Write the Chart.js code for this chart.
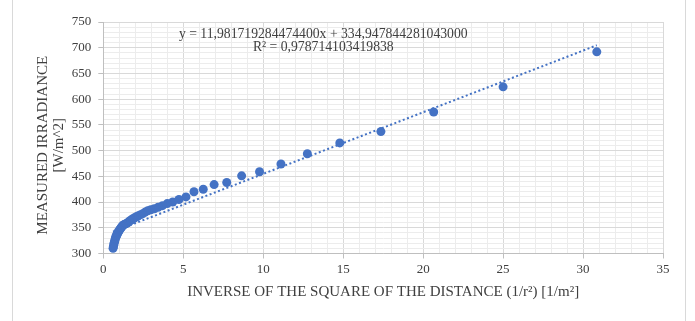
<!DOCTYPE html>
<html>
<head>
<meta charset="utf-8">
<script src="https://cdn.jsdelivr.net/npm/chart.js@4.4.1/dist/chart.umd.min.js"></script>
<style>
  html, body { margin: 0; padding: 0; background: #fff; overflow: hidden; }
  #wrap { position: relative; width: 695px; height: 321px; }
  #frame { position: absolute; left: 12px; top: -2px; width: 674px; height: 324px; border: 1px solid #d9d9d9; pointer-events: none; box-sizing: border-box; }
</style>
</head>
<body>
<div id="wrap">
  <canvas id="grafico" width="695" height="321"></canvas>
  <div id="frame"></div>
</div>
<script>
// 1/r^2 values [1/m^2]
const inversa = [30.86, 25.00, 20.66, 17.36, 14.79, 12.76, 11.11, 9.77, 8.65, 7.72,
  6.93, 6.25, 5.67, 5.17, 4.73, 4.34, 4.00, 3.70, 3.43, 3.19,
  2.97, 2.78, 2.60, 2.44, 2.30, 2.16, 2.04, 1.93, 1.83, 1.73,
  1.64, 1.56, 1.49, 1.42, 1.35, 1.29, 1.23, 1.18, 1.13, 1.09,
  1.04, 1.00, 0.96, 0.92, 0.89, 0.86, 0.83, 0.80, 0.77, 0.74,
  0.72, 0.69, 0.67, 0.65, 0.63, 0.61];
// measured irradiance [W/m^2]
const irradiancia = [692, 624, 575, 537, 515, 494, 474, 459, 451, 438,
  434, 425, 420, 410, 405, 400, 397, 393, 390, 387,
  385, 383, 380, 377, 375, 373, 371, 369, 367, 365,
  363, 361, 359, 358, 357, 356, 355, 353, 351, 349,
  347, 345, 343, 341, 339, 337, 335, 333, 331, 328,
  325, 322, 319, 316, 313, 310];

// excel trendline
const pendiente = 11.981719284474400;
const ordenada = 334.947844281043000;
const textoEc = 'y = 11,981719284474400x + 334,947844281043000';
const textoR2 = 'R\u00B2 = 0,978714103419838';

const fuente = '"Liberation Serif", "Times New Roman", serif';
const gris = '#404040';

const puntos = inversa.map((x, i) => ({ x: x, y: irradiancia[i] }));
const xMin = Math.min(...inversa), xMax = Math.max(...inversa);
const tendencia = [
  { x: xMin, y: pendiente * xMin + ordenada },
  { x: xMax, y: pendiente * xMax + ordenada }
];

const etiquetaEc = {
  id: 'etiquetaEc',
  afterDatasetsDraw(chart) {
    const { ctx, chartArea } = chart;
    ctx.save();
    ctx.font = '13.7px ' + fuente;
    ctx.fillStyle = '#404040';
    ctx.textAlign = 'center';
    ctx.textBaseline = 'middle';
    const cx = chartArea.left + 220;
    ctx.fillText(textoEc, cx, chartArea.top + 12.5);
    ctx.fillText(textoR2, cx, chartArea.top + 25.5);
    ctx.restore();
  }
};

const grafico = new Chart('grafico', {
  type: 'scatter',
  data: {
    datasets: [{
      type: 'line',
      label: 'Tendencia',
      data: tendencia,
      borderColor: '#4472C4',
      borderWidth: 2,
      borderDash: [2, 2.5],
      pointRadius: 0,
      fill: false,
      order: 0
    }, {
      label: 'Irradiancia',
      data: puntos,
      backgroundColor: '#4472C4',
      borderColor: '#4472C4',
      borderWidth: 0,
      pointRadius: 4.5,
      order: 1
    }]
  },
  options: {
    responsive: false,
    animation: false,
    layout: { padding: { top: 22, right: 32, bottom: 20, left: 0 } },
    plugins: {
      legend: { display: false },
      tooltip: { enabled: false }
    },
    scales: {
      x: {
        type: 'linear',
        min: 0,
        max: 35,
        afterFit: (s) => { s.height = 47.5; },
        ticks: {
          stepSize: 1,
          autoSkip: false,
          maxRotation: 0,
          padding: 3,
          color: gris,
          font: { family: fuente, size: 13 },
          callback: (v) => (v % 5 === 0 ? v : '')
        },
        grid: {
          color: (c) => (c.tick && c.tick.value % 5 === 0 ? '#d9d9d9' : '#ececec'),
          tickLength: 5,
          tickColor: (c) => (c.tick && c.tick.value % 5 === 0 ? '#bfbfbf' : 'rgba(0,0,0,0)')
        },
        border: { color: '#bfbfbf' },
        title: {
          display: true,
          text: 'INVERSE OF THE SQUARE OF THE DISTANCE (1/r\u00B2) [1/m\u00B2]',
          color: gris,
          font: { family: fuente, size: 15 },
          padding: { top: 0, bottom: 0 }
        }
      },
      y: {
        min: 300,
        max: 750,
        afterFit: (s) => { s.width = 103.3; },
        ticks: {
          stepSize: 10,
          autoSkip: false,
          padding: 7,
          color: gris,
          font: { family: fuente, size: 13 },
          callback: (v) => (v % 50 === 0 ? v : '')
        },
        grid: {
          color: (c) => (c.tick && c.tick.value % 50 === 0 ? '#d9d9d9' : '#ececec'),
          tickLength: 5,
          tickColor: (c) => (c.tick && c.tick.value % 50 === 0 ? '#bfbfbf' : 'rgba(0,0,0,0)')
        },
        border: { color: '#bfbfbf' },
        title: {
          display: true,
          text: ['MEASURED IRRADIANCE\u00A0\u00A0\u00A0\u00A0', '[W/m^2]\u00A0\u00A0\u00A0\u00A0'],
          color: gris,
          font: { family: fuente, size: 15, lineHeight: 1.1 },
          padding: { top: 34.7, bottom: 0 }
        }
      }
    }
  },
  plugins: [etiquetaEc]
});
</script>
</body>
</html>
